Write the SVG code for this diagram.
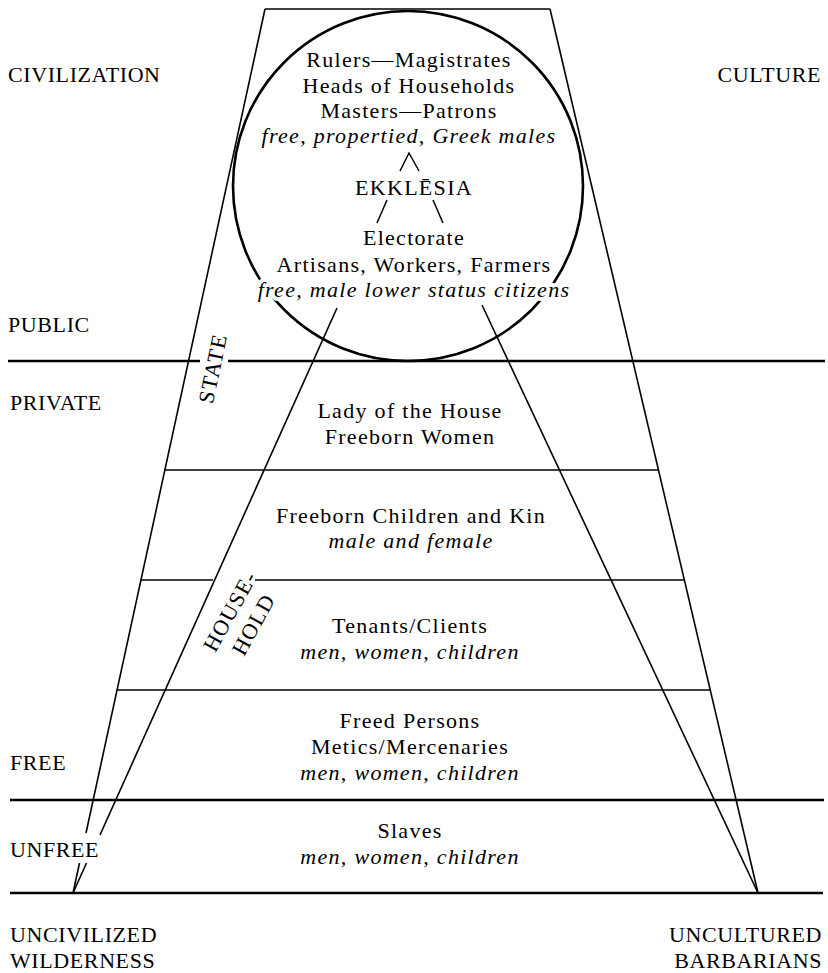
<svg xmlns="http://www.w3.org/2000/svg" width="828" height="973" viewBox="0 0 828 973">
<style>
  text { font-family: "Liberation Serif", "DejaVu Serif", serif; font-size: 22px; fill: #000; }
  .c { text-anchor: middle; letter-spacing: 1.3px; }
  .i { font-style: italic; }
  .cap { letter-spacing: 0.6px; }
  .r { text-anchor: end; }
  .halo { stroke: #fff; stroke-width: 8px; paint-order: stroke; stroke-linejoin: round; }
  .thick { stroke: #000; stroke-width: 2.6; fill: none; }
  .med { stroke: #000; stroke-width: 1.6; fill: none; }
  .thin { stroke: #000; stroke-width: 1.5; fill: none; }
</style>
<rect width="828" height="973" fill="#fff"/>
<g id="connectors">
  <line class="med" x1="265" y1="9" x2="550" y2="9"/>
  <line class="med" x1="265" y1="9" x2="86" y2="833"/>
  <line class="med" x1="79.5" y1="863" x2="73" y2="893"/>
  <line class="med" x1="550" y1="9" x2="758" y2="893"/>
  <line class="med" x1="337" y1="308" x2="100" y2="835"/>
  <line class="med" x1="86.5" y1="863" x2="73" y2="893"/>
  <line class="med" x1="482" y1="305" x2="758" y2="893"/>
  <circle class="thick" cx="408" cy="186" r="175" stroke-width="2.2"/>
  <line class="thick" x1="8" y1="361" x2="200" y2="361"/>
  <line class="thick" x1="228" y1="361" x2="825" y2="361"/>
  <line class="thick" x1="10" y1="800" x2="824" y2="800"/>
  <line class="thick" x1="10" y1="893" x2="823" y2="893"/>
  <line class="thin" x1="164.5" y1="470" x2="659" y2="470"/>
  <line class="thin" x1="140.6" y1="580" x2="213" y2="580"/>
  <line class="thin" x1="255" y1="580" x2="684.4" y2="580"/>
  <line class="thin" x1="116.7" y1="690" x2="710.3" y2="690"/>
  <polyline class="thin" points="400,171 409,153 419,171"/>
  <line class="thin" x1="387" y1="200" x2="377" y2="223"/>
  <line class="thin" x1="433" y1="200" x2="443" y2="223"/>
</g>
<g id="rulers">
  <text class="c" x="409" y="67">Rulers—Magistrates</text>
  <text class="c" x="409" y="93">Heads of Households</text>
  <text class="c" x="409" y="118">Masters—Patrons</text>
  <text class="c i" x="409" y="143">free, propertied, Greek males</text>
</g>
<g id="ekklesia">
  <text class="c" x="414" y="195">EKKLĒSIA</text>
</g>
<g id="electorate">
  <text class="c" x="414" y="245">Electorate</text>
  <text class="c" x="414" y="272">Artisans, Workers, Farmers</text>
  <text class="c i halo" x="414" y="297">free, male lower status citizens</text>
</g>
<g id="lady">
  <text class="c" x="410" y="418">Lady of the House</text>
  <text class="c" x="410" y="444">Freeborn Women</text>
</g>
<g id="children">
  <text class="c" x="411" y="523">Freeborn Children and Kin</text>
  <text class="c i" x="411" y="548">male and female</text>
</g>
<g id="tenants">
  <text class="c" x="410" y="633">Tenants/Clients</text>
  <text class="c i" x="410" y="659">men, women, children</text>
</g>
<g id="freed">
  <text class="c" x="410" y="728">Freed Persons</text>
  <text class="c" x="410" y="754">Metics/Mercenaries</text>
  <text class="c i" x="410" y="780">men, women, children</text>
</g>
<g id="slaves">
  <text class="c" x="410" y="838">Slaves</text>
  <text class="c i" x="410" y="864">men, women, children</text>
</g>
<g id="state">
  <text class="c" transform="translate(220,370) rotate(-78)">STATE</text>
</g>
<g id="household">
  <text class="c" transform="translate(236.6,614.6) rotate(-61)">HOUSE-</text>
  <text class="c" transform="translate(260,628) rotate(-61)">HOLD</text>
</g>
<g id="labels">
  <text class="cap" x="8" y="82">CIVILIZATION</text>
  <text class="cap r" x="821" y="82">CULTURE</text>
  <text class="cap" x="8" y="332">PUBLIC</text>
  <text class="cap" x="10" y="410">PRIVATE</text>
  <text class="cap" x="10" y="770">FREE</text>
  <text class="cap" x="10" y="857">UNFREE</text>
  <text class="cap" x="10" y="942">UNCIVILIZED</text>
  <text class="cap" x="10" y="968">WILDERNESS</text>
  <text class="cap r" x="822" y="942">UNCULTURED</text>
  <text class="cap r" x="822" y="968">BARBARIANS</text>
</g>
</svg>
